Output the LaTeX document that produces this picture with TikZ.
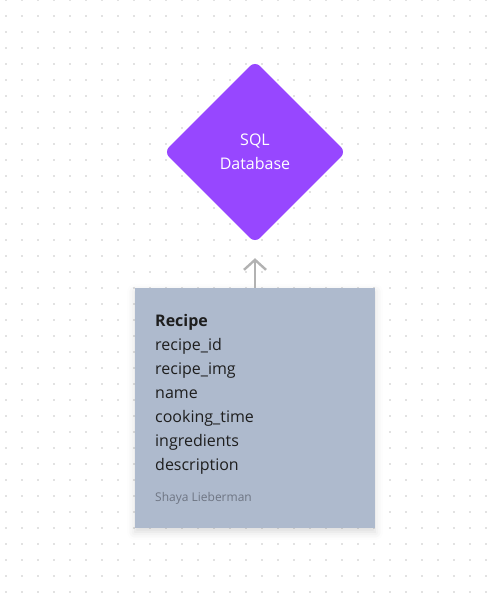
\documentclass[tikz,border=0pt]{standalone}
\usepackage{fontspec}
\setmainfont{Open Sans}
\usetikzlibrary{shapes.geometric,arrows.meta,shadows.blur}
\definecolor{sqlpurple}{HTML}{9747FF}
\definecolor{cardblue}{HTML}{AEBACD}
\definecolor{inkdark}{HTML}{1E1E1E}
\definecolor{inkgray}{HTML}{6E7583}
\definecolor{dotgray}{HTML}{E2E2E2}
\definecolor{arrowgray}{HTML}{B2B2B2}
\begin{document}
\begin{tikzpicture}
			[x=1pt, y=-1pt, align=left,
			database/.style ={diamond, fill=sqlpurple, text=white, minimum width=182pt, minimum height=182pt, rounded corners=7pt, align=center, font=\fontsize{16}{24}\selectfont},
			card/.style ={rectangle, fill=cardblue, minimum width=240pt, minimum height=240pt, blur shadow={shadow xshift=0pt, shadow yshift=-4pt, shadow blur radius=8pt, shadow opacity=15}},
			fields/.style ={anchor=north west, inner sep=0pt, text=inkdark, font=\fontsize{16}{24}\selectfont},
			link/.style ={draw=arrowgray, line width=2.4pt, -{Straight Barb[length=10pt, width=22pt, line width=2.4pt]}}];
			\useasboundingbox (0,0) rectangle (492,595);
			\foreach \i in {0,...,30}
				\foreach \j in {0,...,37}
					\fill[dotgray] (6+16*\i-1, 16*\j-1) rectangle +(2,2);
			\node [database] (sqldb) at (255,152) {SQL\\Database};
			\node [card] (recipe) at (255,408) {};
			\node [fields] (recipefields) at (155,314) {\textbf{Recipe}\\recipe\_id\\recipe\_img\\name\\cooking\_time\\ingredients\\description};
			\node [anchor=west, inner sep=0pt, text=inkgray, font=\fontsize{12}{14}\selectfont] (author) at (155,498) {Shaya Lieberman};
			\draw [link, shorten >=15pt] (recipe.north) -- (sqldb.south);
		\end{tikzpicture}
\end{document}
